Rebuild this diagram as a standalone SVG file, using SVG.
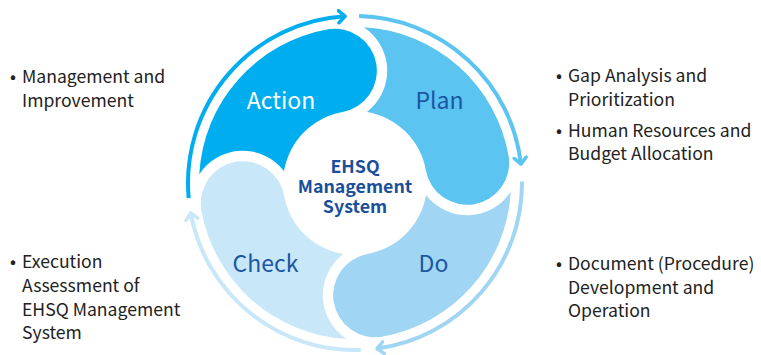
<svg xmlns="http://www.w3.org/2000/svg" width="761" height="355" viewBox="0 0 761 355">
<style>
.lbl{font-family:"Noto Sans CJK KR","Noto Sans",sans-serif;font-size:23px;text-anchor:middle}
.dark{fill:#1B56A3}
.ctr{font-family:"Noto Sans CJK KR","Noto Sans",sans-serif;font-size:17.8px;font-weight:bold;fill:#1A4F9B;text-anchor:middle}
.side{font-family:"Noto Sans CJK KR","Noto Sans",sans-serif;font-size:17.6px;fill:#222222}
.ring{fill:none;stroke-width:4}
</style>
<defs>
<marker id="mA" viewBox="-8 -8 10 16" markerWidth="10" markerHeight="16" refX="0" refY="0" orient="auto" markerUnits="userSpaceOnUse"><path d="M-6.5 -6 L0 0 L-6.5 6" fill="none" stroke="#00AEEF" stroke-width="3.5" stroke-linecap="round" stroke-linejoin="round"/></marker>
<marker id="mP" viewBox="-8 -8 10 16" markerWidth="10" markerHeight="16" refX="0" refY="0" orient="auto" markerUnits="userSpaceOnUse"><path d="M-6.5 -6 L0 0 L-6.5 6" fill="none" stroke="#5BC4F1" stroke-width="3.5" stroke-linecap="round" stroke-linejoin="round"/></marker>
<marker id="mD" viewBox="-8 -8 10 16" markerWidth="10" markerHeight="16" refX="0" refY="0" orient="auto" markerUnits="userSpaceOnUse"><path d="M-6.5 -6 L0 0 L-6.5 6" fill="none" stroke="#A0D6F4" stroke-width="3.5" stroke-linecap="round" stroke-linejoin="round"/></marker>
<marker id="mC" viewBox="-8 -8 10 16" markerWidth="10" markerHeight="16" refX="0" refY="0" orient="auto" markerUnits="userSpaceOnUse"><path d="M-6.5 -6 L0 0 L-6.5 6" fill="none" stroke="#C8E7F9" stroke-width="3.5" stroke-linecap="round" stroke-linejoin="round"/></marker>
</defs>
<rect width="761" height="355" fill="#ffffff"/>
<g id="connectors">
<path class="ring" stroke="#00AEEF" marker-end="url(#mA)" d="M188.69 198.14 A167 167 0 0 1 345.10 16.29"/>
<path class="ring" stroke="#5BC4F1" marker-end="url(#mP)" d="M359.08 16.05 A167 167 0 0 1 520.93 164.10"/>
<path class="ring" stroke="#A0D6F4" marker-end="url(#mD)" d="M521.99 181.54 A167 167 0 0 1 377.09 348.53"/>
<path class="ring" stroke="#C8E7F9" marker-end="url(#mC)" d="M360.83 349.90 A167 167 0 0 1 190.69 212.86"/>
</g>
<g id="action">
<path fill="#00AEEF" d="M199.24 174.29 A156 156 0 0 1 327.91 29.37 A42 42 0 0 1 342.50 112.09 A72 72 0 0 0 283.99 171.12 A52 52 0 0 0 199.24 174.29 Z"/>
<text class="lbl" x="281" y="109" fill="#ffffff">Action</text>
</g>
<g id="plan">
<path fill="#5BC4F1" d="M363.71 27.24 A156 156 0 0 1 508.63 155.91 A42 42 0 0 1 425.91 170.50 A72 72 0 0 0 366.88 111.99 A52 52 0 0 0 363.71 27.24 Z"/>
<text class="lbl dark" x="439.5" y="109">Plan</text>
</g>
<g id="do">
<path fill="#A0D6F4" d="M510.76 191.71 A156 156 0 0 1 382.09 336.63 A42 42 0 0 1 367.50 253.91 A72 72 0 0 0 426.01 194.88 A52 52 0 0 0 510.76 191.71 Z"/>
<text class="lbl dark" x="433.5" y="272">Do</text>
</g>
<g id="check">
<path fill="#C8E7F9" d="M346.29 338.76 A156 156 0 0 1 201.37 210.09 A42 42 0 0 1 284.09 195.50 A72 72 0 0 0 343.12 254.01 A52 52 0 0 0 346.29 338.76 Z"/>
<text class="lbl dark" x="265.5" y="272">Check</text>
</g>
<g id="center">
<text class="ctr" x="355" y="173">EHSQ</text>
<text class="ctr" x="355" y="193">Management</text>
<text class="ctr" x="355" y="213">System</text>
</g>
<g id="note-action">
<text class="side" x="10" y="83">•</text>
<text class="side" x="22" y="83">Management and</text>
<text class="side" x="22" y="107">Improvement</text>
</g>
<g id="note-plan">
<text class="side" x="556" y="82">•</text>
<text class="side" x="568" y="82">Gap Analysis and</text>
<text class="side" x="568" y="106">Prioritization</text>
<text class="side" x="556" y="137">•</text>
<text class="side" x="568" y="137">Human Resources and</text>
<text class="side" x="568" y="160">Budget Allocation</text>
</g>
<g id="note-check">
<text class="side" x="10" y="268">•</text>
<text class="side" x="22" y="268">Execution</text>
<text class="side" x="22" y="292">Assessment of</text>
<text class="side" x="22" y="316">EHSQ Management</text>
<text class="side" x="22" y="339">System</text>
</g>
<g id="note-do">
<text class="side" x="556" y="270">•</text>
<text class="side" x="568" y="270">Document (Procedure)</text>
<text class="side" x="568" y="294">Development and</text>
<text class="side" x="568" y="317">Operation</text>
</g>
</svg>
